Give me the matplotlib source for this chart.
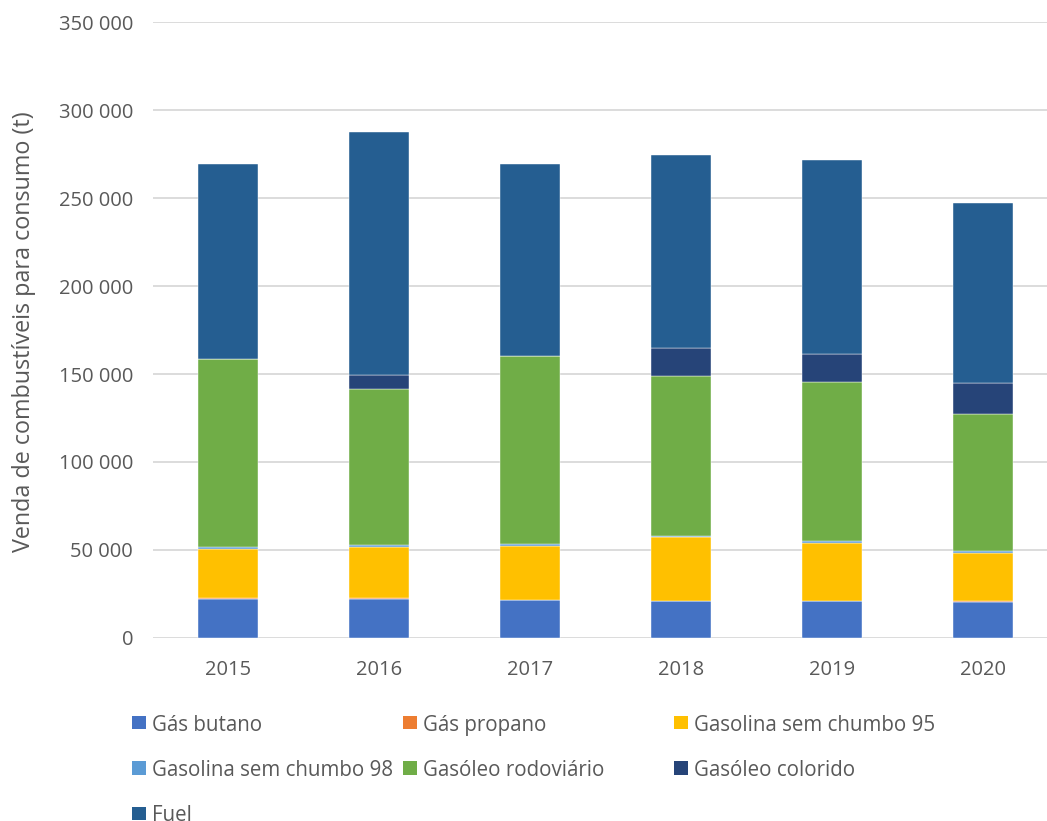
import matplotlib
matplotlib.use("Agg")
import matplotlib.pyplot as plt
import numpy as np
from matplotlib.patches import Rectangle
from matplotlib.ticker import FuncFormatter

plt.rcParams['font.family'] = ['Open Sans', 'DejaVu Sans']

years = ["2015", "2016", "2017", "2018", "2019", "2020"]

gas_butano = [22200, 22200, 21400, 20700, 20900, 20500]
gas_propano = [150, 150, 150, 150, 150, 150]
gasolina_95 = [28100, 29300, 30800, 36300, 33000, 27700]
gasolina_98 = [1300, 950, 970, 750, 960, 800]
gasoleo_rodoviario = [106700, 88700, 106700, 91000, 90300, 78100]
gasoleo_colorido = [0, 7950, 0, 16100, 16300, 17450]
fuel = [111250, 138450, 109480, 109800, 110400, 102850]

series = [
    ("Gás butano", gas_butano, "#4472C4"),
    ("Gás propano", gas_propano, "#ED7D31"),
    ("Gasolina sem chumbo 95", gasolina_95, "#FFC000"),
    ("Gasolina sem chumbo 98", gasolina_98, "#5B9BD5"),
    ("Gasóleo rodoviário", gasoleo_rodoviario, "#70AD47"),
    ("Gasóleo colorido", gasoleo_colorido, "#264478"),
    ("Fuel", fuel, "#255E91"),
]

W, H = 1047, 821
TEXT = "#595959"

fig = plt.figure(figsize=(W / 100, H / 100), dpi=100)
ax = fig.add_axes([152.5 / W, (H - 637.7) / H, (1058.5 - 152.5) / W, (637.7 - 22.4) / H])

x = np.arange(len(years))
bottom = np.zeros(len(years))
for name, vals, color in series:
    vals = np.array(vals, dtype=float)
    ax.bar(x, vals, width=0.4, bottom=bottom, color=color,
           edgecolor="white", linewidth=0.3, zorder=3)
    bottom += vals

ax.set_ylim(0, 350000)
ax.set_xlim(-0.5, len(years) - 0.5)
ax.set_yticks(np.arange(0, 350001, 50000))
ax.yaxis.set_major_formatter(FuncFormatter(lambda v, p: f"{int(v):,}".replace(",", " ")))
ax.set_xticks(x)
ax.set_xticklabels(years)
ax.grid(axis="y", color="#D9D9D9", linewidth=1.3, zorder=0)
for s in ax.spines.values():
    s.set_visible(False)
ax.tick_params(length=0, labelsize=14.5, colors=TEXT)
ax.tick_params(axis="y", pad=14)
ax.tick_params(axis="x", pad=16)

fig.text(24 / W, (H - 332) / H, "Venda de combustíveis para consumo (t)",
         rotation=90, ha="center", va="center", fontsize=16.8, color=TEXT)

# legend laid out in a uniform 3-column grid, filled row by row
col_x = [132.3, 403.3, 674.3]
row_y = [722.7, 768.0, 813.3]
box = 13.3
for i, (name, vals, color) in enumerate(series):
    r, c = divmod(i, 3)
    x0, yc = col_x[c], row_y[r]
    fig.patches.append(Rectangle((x0 / W, (H - yc - box / 2) / H), box / W, box / H,
                                 transform=fig.transFigure, facecolor=color,
                                 edgecolor="none"))
    fig.text((x0 + box + 6) / W, (H - yc) / H, name, ha="left", va="center_baseline",
             fontsize=14.8, color=TEXT)

fig.savefig("out.png", dpi=100)
